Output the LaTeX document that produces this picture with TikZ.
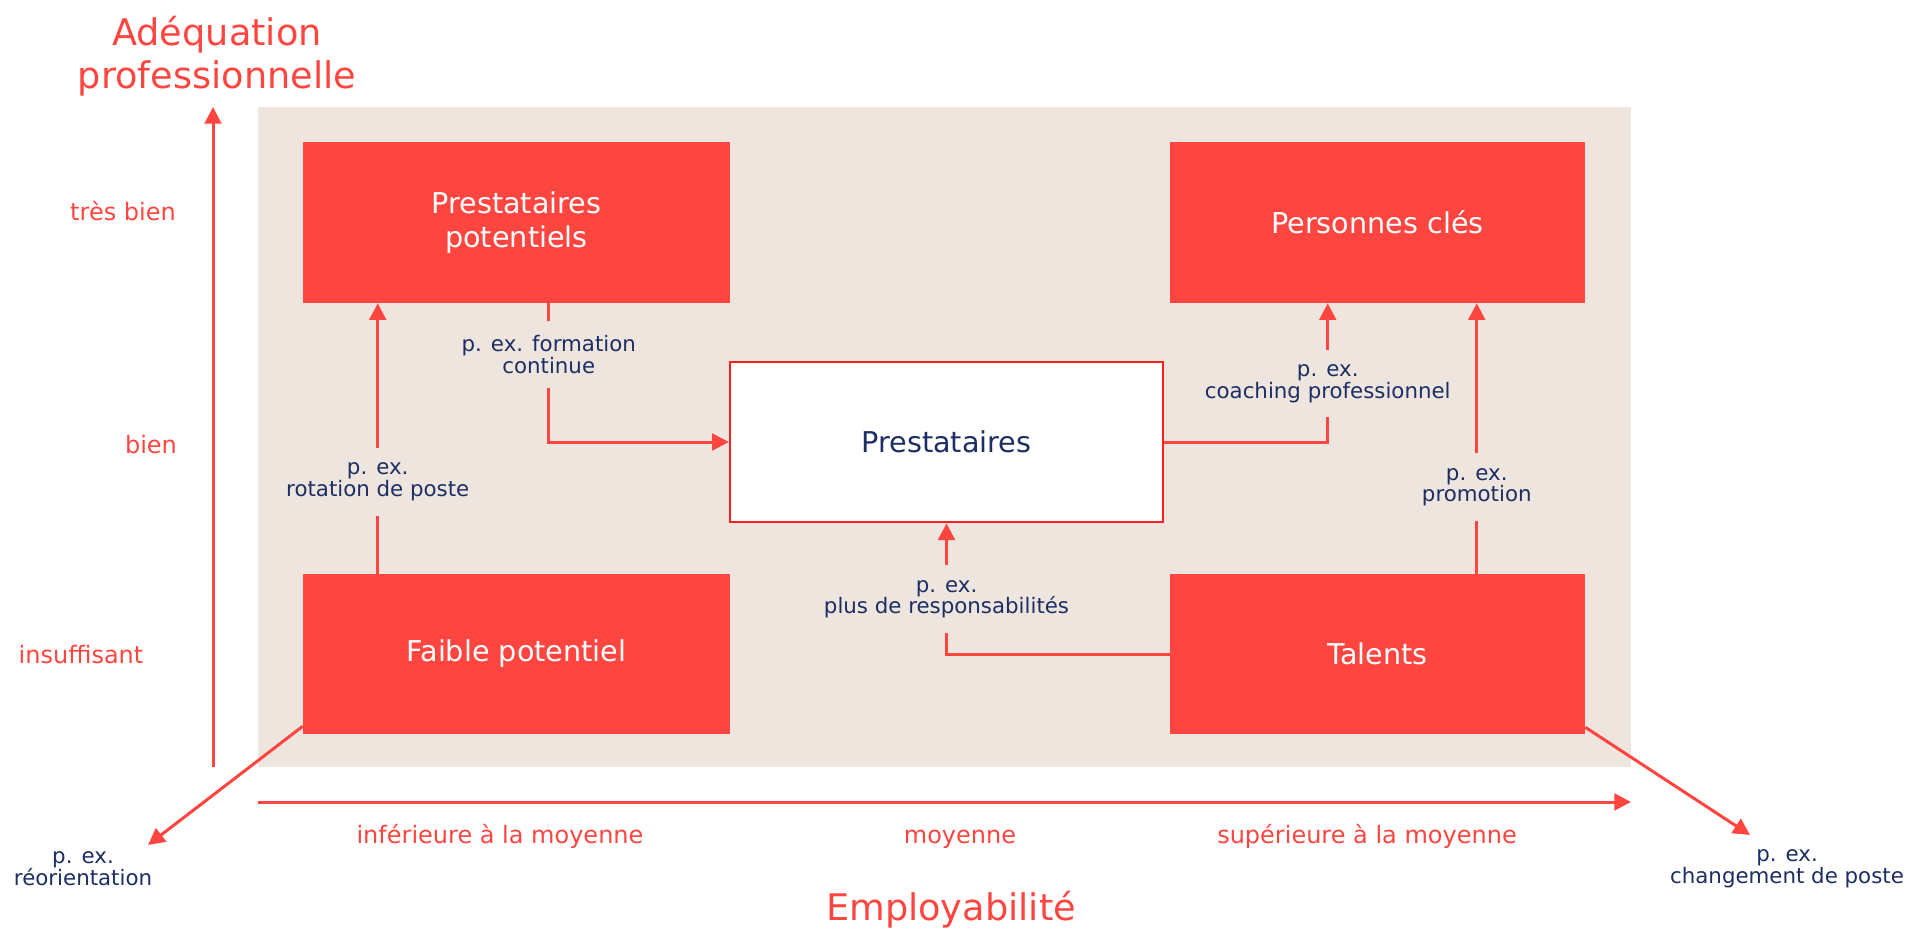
\documentclass[tikz,border=0pt]{standalone}
\usepackage{fontspec}
\setmainfont{DejaVu Sans}
\usetikzlibrary{arrows.meta, calc}
\definecolor{accent}{HTML}{FF4540}
\definecolor{sand}{HTML}{EEE5DF}
\definecolor{navy}{HTML}{1C2E63}
\definecolor{edgered}{HTML}{FF1E1E}

\begin{document}
\begin{tikzpicture}[x=0.75pt, y=-0.75pt,
		redbox/.style={rectangle, fill=accent, text=white, inner sep=0pt, align=center,
			font=\fontsize{21.5}{25.5}\selectfont},
		whitebox/.style={rectangle, fill=white, draw=edgered, line width=1.5pt, text=navy,
			inner sep=0pt, font=\fontsize{21.5}{25.5}\selectfont},
		conn/.style={draw=accent, line width=2.25pt, -{Triangle[length=12.5pt,width=12.5pt]}},
		lbl/.style={fill=sand, text=navy, align=center, inner xsep=4pt, inner ysep=11pt,
			font=\fontsize{16}{16.3}\selectfont},
		note/.style={text=navy, align=center, inner sep=0pt, font=\fontsize{16}{16.3}\selectfont},
		level/.style={text=accent, inner sep=0pt, text height=13pt, text depth=4pt,
			font=\fontsize{18}{21}\selectfont},
		axtitle/.style={text=accent, align=center, inner sep=0pt, font=\fontsize{27.5}{32}\selectfont}
		]
		\useasboundingbox (0,0) rectangle (1906,934);
		\fill[sand] (258,107) rectangle (1631,767);

		\node[redbox, minimum width=320.25pt, minimum height=120.75pt](PotP) at (516.5,222.5){Prestataires\\potentiels};
		\node[redbox, minimum width=311.25pt, minimum height=120.75pt](Key) at (1377.5,222.5){Personnes clés};
		\node[redbox, minimum width=320.25pt, minimum height=120pt](Low) at (516.5,654){Faible potentiel};
		\node[redbox, minimum width=311.25pt, minimum height=120pt](Tal) at (1377.5,654){Talents};
		\node[whitebox, minimum width=325pt, minimum height=120.5pt](Prest) at (946.5,442){Prestataires};

		\draw[conn] ($(Low.north west)+(75,0)$) -- node[lbl, pos=.34]{p. ex.\\rotation de poste} ($(PotP.south west)+(75,0)$);
		\draw[conn] ($(PotP.south west)+(246,0)$) |- node[lbl, pos=.185]{p. ex. formation\\continue} (Prest.west);
		\draw[conn] (Prest.east) -| node[lbl, pos=.71]{p. ex.\\coaching professionnel} ($(Key.south west)+(158,0)$);
		\draw[conn] ($(Tal.north west)+(307,0)$) -- node[lbl, pos=.32]{p. ex.\\promotion} ($(Key.south west)+(307,0)$);
		\draw[conn] (Tal.west) -| node[lbl, pos=.71]{p. ex.\\plus de responsabilités} (Prest.south);

		\coordinate (reo) at (148,845);
		\coordinate (chg) at (1750,835);
		\draw[conn] ($(Low.south west)+(0,-8)$) -- (reo);
		\draw[conn] ($(Tal.south east)+(0,-7)$) -- (chg);
		\node[note](Lreo) at (83,869){p. ex.\\réorientation};
		\node[note](Lchg) at (1787,869){p. ex.\\changement de poste};

		\coordinate (yfoot) at (213,767);
		\coordinate (ytop) at (213,107);
		\coordinate (xfoot) at (258,802);
		\coordinate (xend) at (1631,802);
		\draw[conn] (yfoot) -- (ytop);
		\draw[conn] (xfoot) -- (xend);

		\node[axtitle](Yt) at (217,56){Adéquation\\professionnelle};
		\node[axtitle](Xt) at (951,910){Employabilité};

		\node[level](V1) at (123,215){très bien};
		\node[level](V2) at (151,447){bien};
		\node[level](V3) at (81,657){insuffisant};
		\node[level](H1) at (500,837){inférieure à la moyenne};
		\node[level](H2) at (960,837){moyenne};
		\node[level](H3) at (1367,837){supérieure à la moyenne};
	\end{tikzpicture}
\end{document}
